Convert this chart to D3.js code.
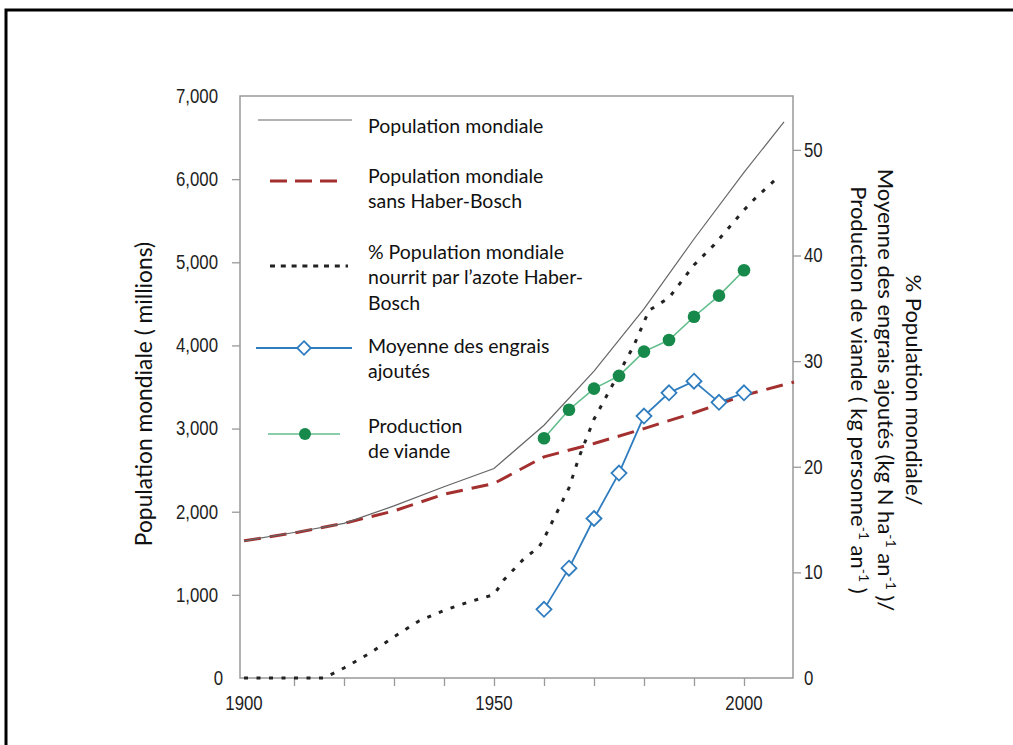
<!DOCTYPE html>
<html>
<head>
<meta charset="utf-8">
<script src="https://cdn.jsdelivr.net/npm/d3@7"></script>
<style>
  body { margin: 0; background: #fff; }
  .tick-label { font-family: "Liberation Sans", Arial, sans-serif; font-size: 20px; fill: #1e1e1e; }
  .txt { font-family: Lato, "Open Sans", sans-serif; fill: #111; }
</style>
</head>
<body>
<div id="chart"></div>
<script>
// data
const popYears = [1900, 1910, 1920, 1930, 1940, 1950, 1960, 1970, 1980, 1990, 2000, 2008];
const popWorld = [1650, 1750, 1860, 2070, 2300, 2520, 3040, 3690, 4440, 5280, 6080, 6690];

const noHbYears = [1900, 1910, 1920, 1930, 1940, 1950, 1960, 1970, 1980, 1990, 2000, 2010];
const popNoHb = [1650, 1745, 1860, 2010, 2210, 2340, 2660, 2820, 3000, 3190, 3400, 3560];

const hbYears = [1900, 1916, 1920, 1925, 1930, 1935, 1940, 1945, 1950, 1952, 1956, 1959, 1960, 1965, 1967, 1970, 1974, 1978, 1981, 1985, 1990, 1994, 1996, 1998, 2000, 2002, 2007];
const hbPct = [0, 0, 0.95, 2.3, 3.9, 5.4, 6.4, 7.2, 7.9, 9.3, 11.3, 12.4, 13.2, 18.0, 20.9, 24.5, 28.0, 31.5, 34.8, 36.0, 39.1, 41.0, 42.1, 43.2, 44.3, 45.3, 47.5];

const fiveYears = [1960, 1965, 1970, 1975, 1980, 1985, 1990, 1995, 2000];
const fertilizer = [6.5, 10.4, 15.1, 19.4, 24.8, 27.0, 28.1, 26.1, 27.0];
const meat = [22.7, 25.4, 27.4, 28.6, 30.9, 32.0, 34.2, 36.2, 38.6];

const xTicks = [1910, 1920, 1930, 1940, 1950, 1960, 1970, 1980, 1990, 2000];
const xLabels = [1900, 1950, 2000];
const yLeftTicks = [0, 1000, 2000, 3000, 4000, 5000, 6000, 7000];
const yRightTicks = [0, 10, 20, 30, 40, 50];

const legendLabels = [
  ["Population mondiale"],
  ["Population mondiale", "sans Haber-Bosch"],
  ["% Population mondiale", "nourrit par l\u2019azote Haber-", "Bosch"],
  ["Moyenne des engrais", "ajout\u00e9s"],
  ["Production", "de viande"]
];

const colors = {
  pop: "#666666",
  noHb: "#a3302f",
  hb: "#222222",
  fert: "#2f7dbf",
  meatLine: "#62bd8c",
  meatDot: "#17894b",
  frame: "#999999"
};

const W = 1013, H = 745,
  plot = { left: 240, right: 793, top: 96, bottom: 678 };

const svg = d3.select("#chart").append("svg").attr("width", W).attr("height", H);

// outer page border (top + left)
svg.append("path")
  .attr("d", `M6,${H} V10 H${W}`)
  .attr("fill", "none")
  .attr("stroke", "#000")
  .attr("stroke-width", 3);

const x = d3.scaleLinear().domain([1899.2, 2009.8]).range([plot.left, plot.right]),
  yL = d3.scaleLinear().domain([0, 7000]).range([plot.bottom, plot.top]),
  yR = d3.scaleLinear().domain([0, 55.1]).range([plot.bottom, plot.top]);

//axes
const xAxis = svg.append("g")
  .attr("transform", `translate(0, ${plot.bottom})`)
  .call(d3.axisBottom(x).tickValues(xTicks).tickSize(8).tickFormat(""));
xAxis.select(".domain").remove();
xAxis.selectAll(".tick line").attr("stroke", colors.frame).attr("stroke-width", 1.3);

svg.append("g").selectAll("text")
  .data(xLabels)
  .enter()
  .append("text")
  .attr("class", "tick-label")
  .attr("x", d => x(d))
  .attr("y", 710)
  .attr("text-anchor", "middle")
  .text(d => d);

const leftAxis = svg.append("g")
  .attr("transform", `translate(${plot.left}, 0)`)
  .call(d3.axisLeft(yL).tickValues(yLeftTicks).tickSize(8).tickPadding(14).tickFormat(d3.format(",")));
leftAxis.select(".domain").remove();
leftAxis.selectAll(".tick line")
  .attr("stroke", colors.frame)
  .attr("stroke-width", 1.3)
  .attr("opacity", d => (d === 0 || d === 7000 ? 0 : 1));
leftAxis.selectAll(".tick text")
  .attr("class", "tick-label")
  .attr("dx", d => (d === 0 ? 5 : 0));

const rightAxis = svg.append("g")
  .attr("transform", `translate(${plot.right}, 0)`)
  .call(d3.axisRight(yR).tickValues(yRightTicks).tickSize(8).tickPadding(3));
rightAxis.select(".domain").remove();
rightAxis.selectAll(".tick line")
  .attr("stroke", colors.frame)
  .attr("stroke-width", 1.3)
  .attr("opacity", d => (d === 0 ? 0 : 1));
rightAxis.selectAll(".tick text")
  .attr("class", "tick-label");
svg.selectAll("g[font-size]").attr("font-size", null).attr("font-family", null);

// the original uses a condensed face: squeeze the sans glyphs a bit
svg.selectAll(".tick-label").each(function () {
  const len = this.getComputedTextLength();
  d3.select(this).attr("textLength", len * 0.84).attr("lengthAdjust", "spacingAndGlyphs");
});

// plot frame
svg.append("rect")
  .attr("x", plot.left)
  .attr("y", plot.top)
  .attr("width", plot.right - plot.left)
  .attr("height", plot.bottom - plot.top)
  .attr("fill", "none")
  .attr("stroke", colors.frame)
  .attr("stroke-width", 1.5);

// axis titles
svg.append("text")
  .attr("class", "txt")
  .attr("transform", "translate(152, 394) rotate(-90)")
  .attr("text-anchor", "middle")
  .attr("font-size", 22.8)
  .text("Population mondiale ( millions)");

const rTitle = svg.append("text")
  .attr("class", "txt")
  .attr("transform", "translate(906, 390) rotate(90)")
  .attr("text-anchor", "middle")
  .attr("font-size", 22);
rTitle.append("tspan").attr("x", 0).attr("dy", 0).text("% Population mondiale/");
const l2 = rTitle.append("tspan").attr("x", 0).attr("dy", 28);
l2.append("tspan").text("Moyenne des engrais ajout\u00e9s (kg N ha");
l2.append("tspan").attr("baseline-shift", "super").attr("font-size", 14).text("-1");
l2.append("tspan").text(" an");
l2.append("tspan").attr("baseline-shift", "super").attr("font-size", 14).text("-1");
l2.append("tspan").text(" )/");
const l3 = rTitle.append("tspan").attr("x", 0).attr("dy", 27);
l3.append("tspan").text("Production de viande ( kg personne");
l3.append("tspan").attr("baseline-shift", "super").attr("font-size", 14).text("-1");
l3.append("tspan").text(" an");
l3.append("tspan").attr("baseline-shift", "super").attr("font-size", 14).text("-1");
l3.append("tspan").text(" )");

// series
const lineL = d3.line().x(d => x(d[0])).y(d => yL(d[1])),
  lineR = d3.line().x(d => x(d[0])).y(d => yR(d[1]));

svg.append("path")
  .attr("d", lineL(d3.zip(noHbYears, popNoHb)))
  .attr("fill", "none")
  .attr("stroke", colors.noHb)
  .attr("stroke-width", 3)
  .attr("stroke-dasharray", "17,9");

svg.append("path")
  .attr("d", lineL(d3.zip(popYears, popWorld)))
  .attr("fill", "none")
  .attr("stroke", colors.pop)
  .attr("stroke-width", 1.2);

svg.append("path")
  .attr("d", lineR(d3.zip(hbYears, hbPct)))
  .attr("fill", "none")
  .attr("stroke", colors.hb)
  .attr("stroke-width", 3)
  .attr("stroke-dasharray", "4,8.5");

svg.append("path")
  .attr("d", lineR(d3.zip(fiveYears, meat)))
  .attr("fill", "none")
  .attr("stroke", colors.meatLine)
  .attr("stroke-width", 1.6);
svg.append("g").selectAll("circle")
  .data(d3.zip(fiveYears, meat))
  .enter()
  .append("circle")
  .attr("cx", d => x(d[0]))
  .attr("cy", d => yR(d[1]))
  .attr("r", 6.3)
  .attr("fill", colors.meatDot);

svg.append("path")
  .attr("d", lineR(d3.zip(fiveYears, fertilizer)))
  .attr("fill", "none")
  .attr("stroke", colors.fert)
  .attr("stroke-width", 1.8);
const diamond = s => `M0,${-s} L${s},0 L0,${s} L${-s},0 Z`;
svg.append("g").selectAll("path")
  .data(d3.zip(fiveYears, fertilizer))
  .enter()
  .append("path")
  .attr("transform", d => `translate(${x(d[0])}, ${yR(d[1])})`)
  .attr("d", diamond(7.5))
  .attr("fill", "#fff")
  .attr("stroke", colors.fert)
  .attr("stroke-width", 1.8);

//legend
const lg = svg.append("g");
const legendRows = [
  { y: 120, x1: 258, x2: 352, stroke: colors.pop, w: 1.2, dash: null, textY: 125 },
  { y: 181, x1: 270, x2: 340, stroke: colors.noHb, w: 3, dash: "17,8", textY: 175 },
  { y: 266, x1: 270, x2: 348, stroke: colors.hb, w: 3, dash: "5,5.8", textY: 251 },
  { y: 348, x1: 256, x2: 352, stroke: colors.fert, w: 1.8, dash: null, textY: 345, mark: "diamond" },
  { y: 434, x1: 268, x2: 340, stroke: colors.meatLine, w: 1.6, dash: null, textY: 425, mark: "dot" }
];
legendRows.forEach((r, i) => {
  lg.append("line")
    .attr("x1", r.x1).attr("x2", r.x2)
    .attr("y1", r.y).attr("y2", r.y)
    .attr("stroke", r.stroke)
    .attr("stroke-width", r.w)
    .attr("stroke-dasharray", r.dash);
  if (r.mark === "diamond") {
    lg.append("path")
      .attr("transform", `translate(304, ${r.y})`)
      .attr("d", diamond(6.8))
      .attr("fill", "#fff")
      .attr("stroke", colors.fert)
      .attr("stroke-width", 1.8);
  }
  if (r.mark === "dot") {
    lg.append("circle")
      .attr("cx", 305).attr("cy", r.y).attr("r", 6)
      .attr("fill", colors.meatDot);
  }
  lg.selectAll(null)
    .data(legendLabels[i])
    .enter()
    .append("text")
    .attr("class", "txt")
    .attr("x", 368)
    .attr("y", (d, j) => r.textY + j * 25.5)
    .attr("dominant-baseline", "central")
    .attr("font-size", 19.5)
    .text(d => d);
});
</script>
</body>
</html>
